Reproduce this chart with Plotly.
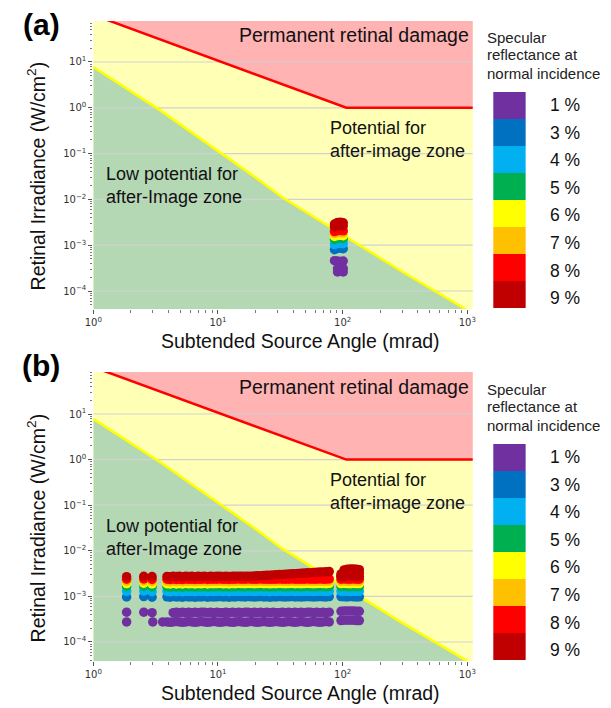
import plotly.graph_objects as go

W, H = 611, 708

# ---------------- data ----------------
SERIES_LABELS = ["1 %", "3 %", "4 %", "5 %", "6 %", "7 %", "8 %", "9 %"]
SERIES_COLORS = ["#7030A0", "#0070C0", "#00B0F0", "#00B050",
                 "#FFFF00", "#FFC000", "#FF0000", "#C00000"]
LEGEND_TITLE = ["Specular", "reflectance at", "normal incidence"]

# zone boundaries (mrad, W/cm^2)
RED_X = [1, 10.7, 107, 1200]
RED_Y = [107, 10, 1, 1]
YEL_X = [1, 3.4, 20, 33, 290, 1000]
YEL_Y = [7.8, 0.9, 0.03, 0.011, 2.8e-4, 3.8e-5]

X_TICK_VALS = [1, 10, 100, 1000]
X_TICK_TEXT = ["10<sup>0</sup>", "10<sup>1</sup>", "10<sup>2</sup>", "10<sup>3</sup>"]
Y_TICK_VALS = [1e-4, 1e-3, 1e-2, 1e-1, 1, 10]
Y_TICK_TEXT = ["10<sup>−4</sup>", "10<sup>−3</sup>", "10<sup>−2</sup>",
               "10<sup>−1</sup>", "10<sup>0</sup>", "10<sup>1</sup>"]

UNIT = 1e-4  # irradiance values below are given in units of 1e-4 W/cm^2

# ---- panel (a) ----
A_X = [86, 91, 96, 101]
A1_X = [86, 91, 96, 101, 91, 96, 101, 91, 101]
A1_Y = [4.6, 4.5, 4.4, 4.5, 3.1, 3.0, 3.1, 2.6, 2.6]
A3_Y = [8.0, 8.5, 8.6, 8.4]
A4_Y = [10.3, 10.9, 11.0, 10.8]
A5_Y = [13.3, 14.0, 14.1, 13.9]
A6_Y = [15.5, 16.2, 16.4, 16.1]
A7_Y = [17.9, 18.8, 18.9, 18.6]
A8_Y = [19.8, 20.8, 21.0, 20.6]
A9_X = A_X + A_X
A9_Y = [29.0, 31.5, 31.8, 30.8, 25.0, 26.5, 26.8, 26.2]

# ---- panel (b) ----
XB_LEFT = [1.85, 2.54, 2.96]
XB_MID = [3.90, 4.13, 4.37, 4.63, 4.91, 5.20, 5.51, 5.83, 6.18, 6.55,
          6.93, 7.35, 7.78, 8.24, 8.73, 9.25, 9.80, 10.4, 11.0, 11.6,
          12.3, 13.1, 13.8, 14.7, 15.5, 16.5, 17.4, 18.5, 19.6, 20.7,
          22.0, 23.3, 24.6, 26.1, 27.7, 29.3, 31.0, 32.9, 34.8, 36.9,
          39.1, 41.4, 43.9, 46.5, 49.2, 52.1, 55.2, 58.5, 62.0, 65.7,
          69.6, 73.7, 78.0]
XB_RIGHT = [97, 102.7, 108.8, 115.3, 122, 129, 136]
XB = XB_LEFT + XB_MID + XB_RIGHT

B1_UP_X = XB_LEFT + XB_MID[2:] + XB_RIGHT
B1_UP_Y = ([4.5, 4.5, 4.4] +
           [4.4, 4.5, 4.4, 4.5, 4.4, 4.5, 4.4, 4.5, 4.4, 4.5,
            4.5, 4.4, 4.5, 4.4, 4.5, 4.4, 4.4, 4.5, 4.4, 4.5,
            4.4, 4.5, 4.4, 4.5, 4.5, 4.4, 4.5, 4.4, 4.5, 4.4,
            4.5, 4.4, 4.5, 4.4, 4.4, 4.5, 4.4, 4.5, 4.4, 4.5,
            4.4, 4.5, 4.4, 4.5, 4.5, 4.4, 4.5, 4.4, 4.5, 4.4,
            4.5] +
           [4.7, 4.8, 4.8, 4.8, 4.8, 4.7, 4.7])
B1_LO_X = [1.85, 3.0, 3.6] + XB_MID + XB_RIGHT
B1_LO_Y = ([2.75, 2.75, 2.75] +
           [2.75, 2.7, 2.75, 2.8, 2.75, 2.7, 2.75, 2.8, 2.75, 2.7,
            2.75, 2.8, 2.75, 2.7, 2.75, 2.8, 2.75, 2.7, 2.75, 2.8,
            2.75, 2.7, 2.75, 2.8, 2.75, 2.7, 2.75, 2.8, 2.75, 2.7,
            2.75, 2.8, 2.75, 2.7, 2.75, 2.8, 2.75, 2.7, 2.75, 2.8,
            2.75, 2.7, 2.75, 2.8, 2.75, 2.7, 2.75, 2.8, 2.75, 2.7,
            2.75, 2.8, 2.75] +
           [2.95, 3.0, 3.0, 3.0, 3.0, 2.95, 2.95])
B3_Y = ([9.7, 9.9, 9.6] +
        [9.8, 9.6, 9.9, 9.7, 9.8, 9.6, 9.9, 9.7, 9.8, 9.6,
         9.8, 9.7, 9.9, 9.6, 9.8, 9.7, 9.8, 9.9, 9.7, 9.8,
         9.6, 9.8, 9.7, 9.9, 9.8, 9.7, 9.9, 9.8, 9.7, 9.8,
         9.9, 9.7, 9.8, 9.6, 9.8, 9.7, 9.9, 9.8, 9.7, 9.8,
         9.9, 9.7, 9.8, 9.7, 9.8, 9.9, 9.8, 9.7, 9.8, 9.9,
         9.8, 9.7, 9.9] +
        [9.9, 9.8, 9.7, 9.9, 9.8, 9.7, 9.8])
B4_Y = ([12.9, 13.1, 12.7] +
        [12.8, 12.6, 13.0, 12.7, 12.9, 12.6, 13.0, 12.8, 12.9, 12.7,
         12.9, 12.8, 13.0, 12.7, 12.9, 12.8, 12.9, 13.0, 12.8, 12.9,
         12.7, 12.9, 12.8, 13.0, 12.9, 12.8, 13.0, 12.9, 12.8, 12.9,
         13.0, 12.8, 12.9, 12.7, 12.9, 12.8, 13.0, 12.9, 12.8, 12.9,
         13.0, 12.8, 12.9, 12.8, 12.9, 13.0, 12.9, 12.8, 12.9, 13.0,
         12.9, 12.8, 13.0] +
        [12.9, 13.0, 12.9, 12.8, 13.0, 12.9, 12.9])
B5_Y = ([16.3, 16.5, 16.1] +
        [16.2, 15.9, 16.4, 16.0, 16.3, 15.9, 16.4, 16.1, 16.3, 16.0,
         16.3, 16.1, 16.4, 16.0, 16.3, 16.2, 16.3, 16.4, 16.1, 16.3,
         16.0, 16.3, 16.2, 16.4, 16.3, 16.2, 16.4, 16.3, 16.2, 16.3,
         16.4, 16.2, 16.3, 16.1, 16.3, 16.2, 16.4, 16.3, 16.2, 16.3,
         16.4, 16.2, 16.3, 16.2, 16.3, 16.4, 16.3, 16.2, 16.3, 16.4,
         16.3, 16.2, 16.4] +
        [16.3, 16.4, 16.3, 16.2, 16.4, 16.3, 16.3])
B6_Y = ([19.1, 19.4, 18.9] +
        [19.0, 18.7, 19.3, 18.8, 19.1, 18.7, 19.3, 18.9, 19.1, 18.8,
         19.1, 18.9, 19.3, 18.8, 19.1, 19.0, 19.1, 19.3, 18.9, 19.1,
         18.8, 19.1, 19.0, 19.3, 19.1, 19.0, 19.3, 19.1, 19.0, 19.1,
         19.3, 19.0, 19.1, 18.9, 19.1, 19.0, 19.3, 19.1, 19.0, 19.1,
         19.3, 19.0, 19.1, 19.0, 19.1, 19.3, 19.1, 19.0, 19.1, 19.3,
         19.1, 19.0, 19.3] +
        [19.1, 19.3, 19.1, 19.0, 19.3, 19.1, 19.1])
B7_Y = ([21.3, 21.6, 21.0] +
        [21.2, 20.8, 21.5, 21.0, 21.3, 20.8, 21.5, 21.1, 21.3, 20.9,
         21.3, 21.1, 21.5, 20.9, 21.3, 21.2, 21.3, 21.5, 21.1, 21.3,
         20.9, 21.3, 21.2, 21.5, 21.3, 21.2, 21.5, 21.3, 21.2, 21.3,
         21.5, 21.2, 21.3, 21.1, 21.3, 21.2, 21.5, 21.3, 21.2, 21.3,
         21.5, 21.2, 21.3, 21.2, 21.3, 21.5, 21.3, 21.2, 21.3, 21.5,
         21.3, 21.2, 21.5] +
        [21.3, 21.5, 21.3, 21.2, 21.5, 21.3, 21.3])
B8_Y = ([23.9, 24.2, 23.6] +
        [23.8, 23.4, 24.1, 23.6, 23.9, 23.4, 24.1, 23.7, 23.9, 23.5,
         23.9, 23.7, 24.1, 23.5, 23.9, 23.8, 23.9, 24.1, 23.7, 23.9,
         23.5, 23.9, 23.8, 24.1, 23.9, 23.8, 24.1, 23.9, 23.8, 23.9,
         24.1, 23.8, 23.9, 23.7, 23.9, 23.8, 24.1, 23.9, 23.8, 23.9,
         24.1, 23.8, 23.9, 23.8, 23.9, 24.1, 23.9, 23.8, 23.9, 24.1,
         23.9, 23.8, 24.1] +
        [23.9, 24.1, 23.9, 23.8, 24.1, 23.9, 23.9])
B9_X = XB + XB_RIGHT + XB_RIGHT
B9_Y = ([27.0, 27.6, 27.2] +
        [27.4, 27.0, 27.7, 27.2, 27.5, 27.0, 27.7, 27.3, 27.5, 27.1,
         27.5, 27.3, 27.7, 27.1, 27.5, 27.4, 27.6, 27.8, 27.3, 27.6,
         27.2, 27.6, 27.5, 27.8, 27.6, 27.5, 27.8, 27.7, 27.9, 28.2,
         28.5, 28.7, 29.0, 29.2, 29.5, 29.8, 30.1, 30.3, 30.6, 30.9,
         31.2, 31.5, 31.8, 32.1, 32.5, 32.8, 33.1, 33.5, 33.8, 34.1,
         34.4, 34.7, 35.0] +
        [31.0, 38.0, 39.5, 40.0, 40.0, 39.5, 38.5] +
        [28.0, 32.0, 33.0, 33.0, 33.0, 32.5, 32.5] +
        [27.0, 27.5, 28.0, 28.0, 28.0, 27.5, 27.5])

PANEL_A = [(A1_X, A1_Y), (A_X, A3_Y), (A_X, A4_Y), (A_X, A5_Y),
           (A_X, A6_Y), (A_X, A7_Y), (A_X, A8_Y), (A9_X, A9_Y)]
PANEL_B = [(B1_UP_X + B1_LO_X, B1_UP_Y + B1_LO_Y), (XB, B3_Y), (XB, B4_Y), (XB, B5_Y),
           (XB, B6_Y), (XB, B7_Y), (XB, B8_Y), (B9_X, B9_Y)]

for _sx, _sy in PANEL_A + PANEL_B:
    assert len(_sx) == len(_sy), (len(_sx), len(_sy))

# ---------------- style ----------------
RED_FILL = "#FFB3B3"
YEL_FILL = "#FFFFB5"
GRN_FILL = "#B3D8B3"
GRID_COL = "#D2D2D2"
TXT = "Liberation Sans, Arial, sans-serif"


def px(x):
    return x / W


def py(y):
    return 1 - y / H


fig = go.Figure()


def add_panel(xa, ya, series):
    # green zone below the yellow line
    fig.add_trace(go.Scatter(x=YEL_X + [YEL_X[-1], YEL_X[0]], y=YEL_Y + [1e-8, 1e-8],
                             fill="toself", fillcolor=GRN_FILL, mode="none",
                             xaxis=xa, yaxis=ya, hoverinfo="skip"))
    # red zone above the red line
    fig.add_trace(go.Scatter(x=RED_X + [RED_X[-1], RED_X[0]], y=RED_Y + [1e5, 1e5],
                             fill="toself", fillcolor=RED_FILL, mode="none",
                             xaxis=xa, yaxis=ya, hoverinfo="skip"))
    # horizontal grid lines at major ticks
    gx, gy = [], []
    for v in Y_TICK_VALS:
        gx += [1, 1200, None]
        gy += [v, v, None]
    fig.add_trace(go.Scatter(x=gx, y=gy, mode="lines", line=dict(color=GRID_COL, width=1.2),
                             xaxis=xa, yaxis=ya, hoverinfo="skip"))
    fig.add_trace(go.Scatter(x=RED_X, y=RED_Y, mode="lines", line=dict(color="#FF0000", width=2.5),
                             xaxis=xa, yaxis=ya, hoverinfo="skip"))
    fig.add_trace(go.Scatter(x=YEL_X, y=YEL_Y, mode="lines", line=dict(color="#FFFF00", width=2.5),
                             xaxis=xa, yaxis=ya, hoverinfo="skip"))
    for (sx, sy), col, lab in zip(series, SERIES_COLORS, SERIES_LABELS):
        fig.add_trace(go.Scatter(x=sx, y=[v * UNIT for v in sy], mode="markers", name=lab,
                                 marker=dict(size=9.5, color=col, line=dict(width=0)),
                                 xaxis=xa, yaxis=ya))


add_panel("x", "y", PANEL_A)
add_panel("x2", "y2", PANEL_B)

MINOR = [m * 10 ** e for e in range(-6, 4) for m in range(2, 10)]
TICKFONT = dict(family="DejaVu Sans, sans-serif", size=10, color="#333")


def xaxis_cfg(anchor):
    return dict(type="log", range=[0, 3.043], domain=[px(86), px(473)], anchor=anchor,
                tickmode="array", tickvals=X_TICK_VALS, ticktext=X_TICK_TEXT,
                ticks="outside", ticklen=4, tickwidth=1, tickcolor="#555",
                minor=dict(tickvals=MINOR, ticks="outside", ticklen=2.5, tickwidth=1,
                           tickcolor="#777", showgrid=False),
                showgrid=False, zeroline=False, showline=False, tickfont=TICKFONT)


def yaxis_cfg(anchor, rng, top, bottom):
    return dict(type="log", range=rng, domain=[py(bottom), py(top)], anchor=anchor,
                tickmode="array", tickvals=Y_TICK_VALS, ticktext=Y_TICK_TEXT,
                ticks="outside", ticklen=4, tickwidth=1, tickcolor="#555",
                minor=dict(tickvals=MINOR, ticks="outside", ticklen=2.5, tickwidth=1,
                           tickcolor="#777", showgrid=False),
                showgrid=False, zeroline=False, showline=False, tickfont=TICKFONT)


annotations = []
shapes = []


def text(x, y, s, size, xanchor="left", angle=0, color="#111"):
    annotations.append(dict(x=px(x), y=py(y), xref="paper", yref="paper", text=s,
                            showarrow=False, xanchor=xanchor, yanchor="middle",
                            textangle=angle, align="left",
                            font=dict(family=TXT, size=size, color=color)))


for off, lab, laby in [(0, "(a)", 25), (352, "(b)", 365)]:
    text(33, laby, "<b>" + lab + "</b>", 30, xanchor="center", color="#000")
    text(233, 35 + off, "Permanent retinal damage", 19.5)
    text(325, 139 + off, "Potential for<br>after-image zone", 18)
    text(97, 185 + off, "Low potential for<br>after-Image zone", 18)
    text(28, 176 + off, "Retinal Irradiance (W/cm<sup>2</sup>)", 19.5, xanchor="center", angle=-90)
    text(297, 341 + off, "Subtended Source Angle (mrad)", 19.5, xanchor="center")
    for i, line in enumerate(LEGEND_TITLE):
        text(486, 37 + 18 * i + off, line, 15, color="#222")
    for i, (lab_s, col) in enumerate(zip(SERIES_LABELS, SERIES_COLORS)):
        shapes.append(dict(type="rect", xref="paper", yref="paper",
                           x0=px(494), x1=px(527), y0=py(92 + 27 * (i + 1) + off),
                           y1=py(92 + 27 * i + off),
                           fillcolor=col, line=dict(width=0)))
        text(550, 105 + 27.6 * i + off, lab_s, 17.5)

fig.update_layout(
    width=W, height=H, margin=dict(l=0, r=0, t=0, b=0),
    paper_bgcolor="white", plot_bgcolor=YEL_FILL, showlegend=False,
    xaxis=xaxis_cfg("y"), yaxis=yaxis_cfg("x", [-4.393, 1.895], 21, 309),
    xaxis2=xaxis_cfg("y2"), yaxis2=yaxis_cfg("x2", [-4.417, 1.921], 372, 661),
    annotations=annotations, shapes=shapes,
)

fig.write_html("out.html")
